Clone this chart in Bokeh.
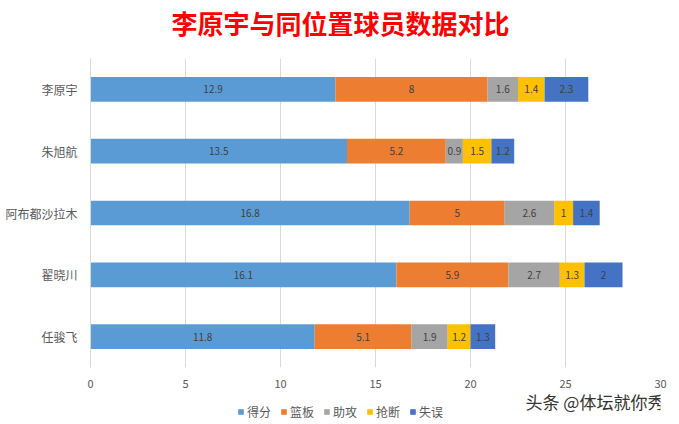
from bokeh.plotting import figure
from bokeh.models import Label, Legend, LegendItem, ColumnDataSource
from bokeh.layouts import column
from bokeh.embed import file_html
from bokeh.resources import INLINE
from bokeh.core.properties import value

players = ["李原宇", "朱旭航", "阿布都沙拉木", "翟晓川", "任骏飞"]
stats = ["得分", "篮板", "助攻", "抢断", "失误"]
points = [12.9, 13.5, 16.8, 16.1, 11.8]
rebounds = [8, 5.2, 5, 5.9, 5.1]
assists = [1.6, 0.9, 2.6, 2.7, 1.9]
steals = [1.4, 1.5, 1, 1.3, 1.2]
turnovers = [2.3, 1.2, 1.4, 2, 1.3]
colors = ["#5B9BD5", "#ED7D31", "#A5A5A5", "#FFC000", "#4472C4"]
x_ticks = [0, 5, 10, 15, 20, 25, 30]
title_text = "李原宇与同位置球员数据对比"
credit_text = "头条 @体坛就你秀"

FONT = "Noto Sans CJK SC"
W = 679
H0, H1, H2 = 46, 344, 34
FL = 90  # frame left (shared by all rows)

series = [points, rebounds, assists, steals, turnovers]
data = {"player": players}
for name, vals in zip(stats, series):
    data[name] = vals
src = ColumnDataSource(data)

# title strip
t = figure(width=W, height=H0, x_range=(0, 1), y_range=(0, 1), output_backend="svg",
           toolbar_location=None, x_axis_location=None, y_axis_location=None, min_border=0)
t.outline_line_color = None
t.grid.visible = False
t.add_layout(Label(x=340 - FL, y=H0 - 22, x_units="screen", y_units="screen", text=title_text,
                   text_align="center", text_baseline="middle", text_font=FONT,
                   text_font_size="26px", text_font_style="bold", text_color="#FF0000"))

p = figure(width=W, height=H1, y_range=list(reversed(players)), x_range=(0, 30),
           output_backend="svg", toolbar_location=None,
           min_border_left=FL, min_border_right=19, min_border_top=12, min_border_bottom=20)
p.outline_line_color = None
p.background_fill_color = "white"

renderers = p.hbar_stack(stats, y="player", height=0.4, color=colors, source=src, line_color=None)

# data labels
lab_x, lab_y, lab_t = [], [], []
for i, pl in enumerate(players):
    cum = 0.0
    for vals in series:
        v = vals[i]
        lab_x.append(cum + v / 2)
        lab_y.append(pl)
        lab_t.append(f"{v:g}")
        cum += v
p.text(x=lab_x, y=lab_y, text=lab_t, text_align="center", text_baseline="middle",
       text_font=value(FONT), text_font_size="10px", text_color="#404040")

# axes
p.xaxis.ticker = x_ticks
p.xaxis.axis_line_color = None
p.xaxis.major_tick_line_color = None
p.xaxis.minor_tick_line_color = None
p.xaxis.major_label_text_font = FONT
p.xaxis.major_label_text_font_size = "11px"
p.xaxis.major_label_text_color = "#595959"
p.xaxis.major_label_standoff = 6

p.yaxis.axis_line_color = "#D9D9D9"
p.yaxis.major_tick_line_color = None
p.yaxis.minor_tick_line_color = None
p.yaxis.major_label_text_font = FONT
p.yaxis.major_label_text_font_size = "12px"
p.yaxis.major_label_text_color = "#595959"
p.yaxis.major_label_standoff = 7

p.xgrid.grid_line_color = "#D9D9D9"
p.ygrid.grid_line_color = None

# legend strip
q = figure(width=W, height=H2, x_range=(0, 1), y_range=(0, 1), output_backend="svg",
           toolbar_location=None, x_axis_location=None, y_axis_location=None,
           min_border=0)
q.outline_line_color = None
q.grid.visible = False
leg_rs = [q.rect(x=[-5], y=[-5], width=0.1, height=0.1, fill_color=c, line_color=None) for c in colors]
legend = Legend(items=[LegendItem(label=s, renderers=[r]) for s, r in zip(stats, leg_rs)],
                orientation="horizontal", location=(237 - FL, 4),
                label_text_font=FONT, label_text_font_size="12px", label_text_color="#595959",
                glyph_width=7, glyph_height=7, label_standoff=3, spacing=9,
                border_line_color=None, background_fill_alpha=0, padding=2, margin=0)
q.add_layout(legend)
q.add_layout(Label(x=525 - FL, y=H2 - 11, x_units="screen", y_units="screen", text=credit_text,
                   text_align="left", text_baseline="middle", text_font=FONT,
                   text_font_size="17px", text_color="#333333"))

open("out.html", "w").write(file_html(column(t, p, q, spacing=0), INLINE))
